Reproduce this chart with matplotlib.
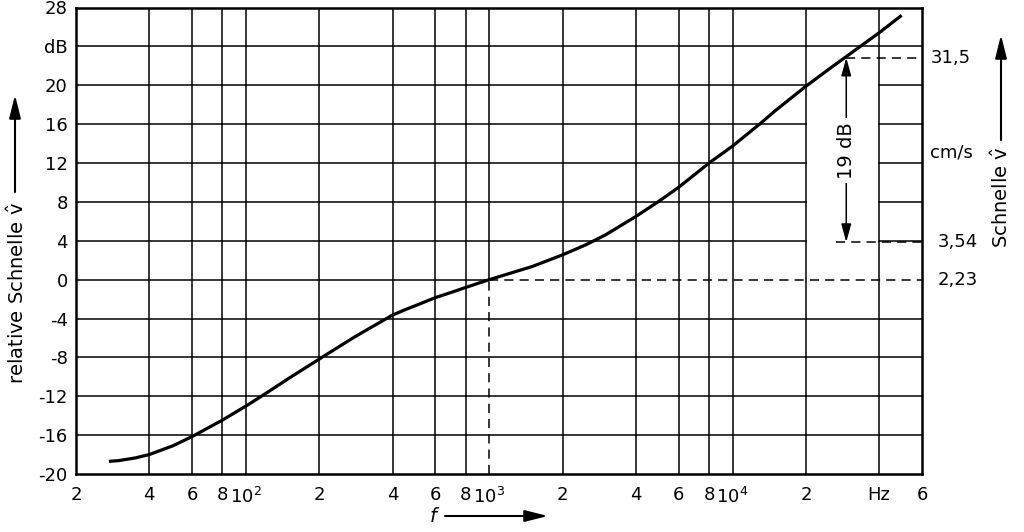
import numpy as np
import matplotlib
matplotlib.use("Agg")
import matplotlib.pyplot as plt

plt.rcParams['font.family'] = ['DejaVu Sans']
plt.rcParams['mathtext.default'] = 'regular'

# curve: frequency in Hz, relative velocity in dB
freq = [27.3, 30, 35, 40, 50, 60, 80, 100, 117, 150, 205, 280, 379, 400, 450,
        500, 600, 700, 800, 1000, 1500, 2000, 2500, 3000, 4000, 5000, 6000,
        8000, 10000, 12900, 15000, 19770, 25000, 29300, 33900, 40000, 49500]
level = [-18.7, -18.62, -18.35, -18.0, -17.1, -16.15, -14.45, -13.0, -11.92,
         -10.15, -8.0, -5.88, -3.98, -3.65, -3.1, -2.65, -1.85, -1.3, -0.8,
         0.0, 1.35, 2.55, 3.6, 4.6, 6.5, 8.1, 9.5, 12.0, 13.75, 16.0, 17.4,
         19.8, 21.7, 22.95, 24.1, 25.4, 27.2]

x_ticks = [20, 40, 60, 80, 100, 200, 400, 600, 800, 1000, 2000, 4000, 6000,
           8000, 10000, 20000, 40000, 60000]
x_labels = ['2', '4', '6', '8', '10$^2$', '2', '4', '6', '8', '10$^3$',
            '2', '4', '6', '8', '10$^4$', '2', 'Hz', '6']
y_ticks = list(range(-20, 29, 4))
y_labels = ['dB' if v == 24 else str(v) for v in y_ticks]

ref_freq = 1000          # 0 dB reference
ref_label = '2,23'
hi_freq = 29300          # 19 dB marker
hi_db, lo_db = 22.85, 3.85
hi_label, lo_label = '31,5', '3,54'

fig = plt.figure(figsize=(10.24, 5.32), dpi=100)
ax = fig.add_axes([76 / 1024, 58 / 532, 846 / 1024, 466.5 / 532])
ax.set_xscale('log')
ax.set_xlim(20, 60000)
ax.set_ylim(-20, 28)

grid_kw = dict(color='black', lw=1.1, zorder=1)
dash = (0, (6, 4))

# vertical grid
for xv in x_ticks[1:-1]:
    if xv == ref_freq:
        ax.plot([xv, xv], [0, 28], **grid_kw)
        ax.plot([xv, xv], [-20, 0], ls=dash, **grid_kw)
    else:
        ax.axvline(xv, **grid_kw)

# horizontal grid (gap between 2e4 and 4e4 for the 19 dB marker)
for yv in y_ticks[1:-1]:
    if yv == 0:
        ax.plot([20, ref_freq], [0, 0], **grid_kw)
        ax.plot([ref_freq, 60000], [0, 0], ls=dash, **grid_kw)
    elif 4 <= yv <= 20:
        ax.plot([20, 20000], [yv, yv], **grid_kw)
        ax.plot([40000, 60000], [yv, yv], **grid_kw)
    else:
        ax.axhline(yv, **grid_kw)

# curve
ax.plot(freq, level, color='black', lw=2.3, solid_capstyle='butt',
        solid_joinstyle='round', zorder=3)

# dashed reference lines
ax.plot([hi_freq, 60000], [hi_db, hi_db], ls=dash, **grid_kw)
ax.plot([26500, 60000], [lo_db, lo_db], ls=dash, **grid_kw)

# 19 dB double arrow
head = dict(arrowstyle='-|>,head_length=1.1,head_width=0.3',
            color='black', lw=1.1, shrinkA=0, shrinkB=0)
mid = (hi_db + lo_db) / 2
ax.annotate('', xy=(hi_freq, hi_db), xytext=(hi_freq, mid), arrowprops=head, zorder=2)
ax.annotate('', xy=(hi_freq, lo_db), xytext=(hi_freq, mid), arrowprops=head, zorder=2)
ax.text(hi_freq, 13.3, '19 dB', rotation=90, ha='center', va='center',
        fontsize=14, bbox=dict(facecolor='white', edgecolor='none', pad=3),
        zorder=4)

ax.set_xticks(x_ticks)
ax.set_xticklabels(x_labels)
ax.minorticks_off()
ax.set_yticks(y_ticks)
ax.set_yticklabels(y_labels)
ax.tick_params(axis='both', length=0, labelsize=13)
ax.tick_params(axis='x', pad=9)
ax.tick_params(axis='y', pad=6)
for s in ax.spines.values():
    s.set_linewidth(1.8)

# right side values
ytr = ax.get_yaxis_transform()
ax.text(1.01, hi_db, hi_label, transform=ytr, ha='left', va='center', fontsize=13)
ax.text(1.019, lo_db, lo_label, transform=ytr, ha='left', va='center', fontsize=13)
ax.text(1.019, 0, ref_label, transform=ytr, ha='left', va='center', fontsize=13)
ax.text(1.01, 13.1, 'cm/s', transform=ytr, ha='left', va='center', fontsize=13)

# axis labels with arrows
arrow_kw = dict(arrowstyle='-|>,head_length=1.4,head_width=0.35',
                color='black', lw=1.5, shrinkA=0, shrinkB=0)
fig.text(17 / 1024, 1 - 293 / 532, 'relative Schnelle $\\hat{v}$', rotation=90,
         ha='center', va='center', fontsize=14)
ax.annotate('', xy=(15, 532 - 95), xytext=(15, 532 - 192),
            xycoords='figure pixels', textcoords='figure pixels', arrowprops=arrow_kw)

fig.text(1001 / 1024, 1 - 197 / 532, 'Schnelle $\\hat{v}$', rotation=90,
         ha='center', va='center', fontsize=14)
ax.annotate('', xy=(1001, 532 - 35), xytext=(1001, 532 - 140),
            xycoords='figure pixels', textcoords='figure pixels', arrowprops=arrow_kw)

fig.text(433 / 1024, 1 - 516 / 532, 'f', style='italic', ha='center',
         va='center', fontsize=14)
ax.annotate('', xy=(548, 532 - 516), xytext=(445, 532 - 516),
            xycoords='figure pixels', textcoords='figure pixels', arrowprops=arrow_kw)

fig.savefig('out.png', dpi=100)
